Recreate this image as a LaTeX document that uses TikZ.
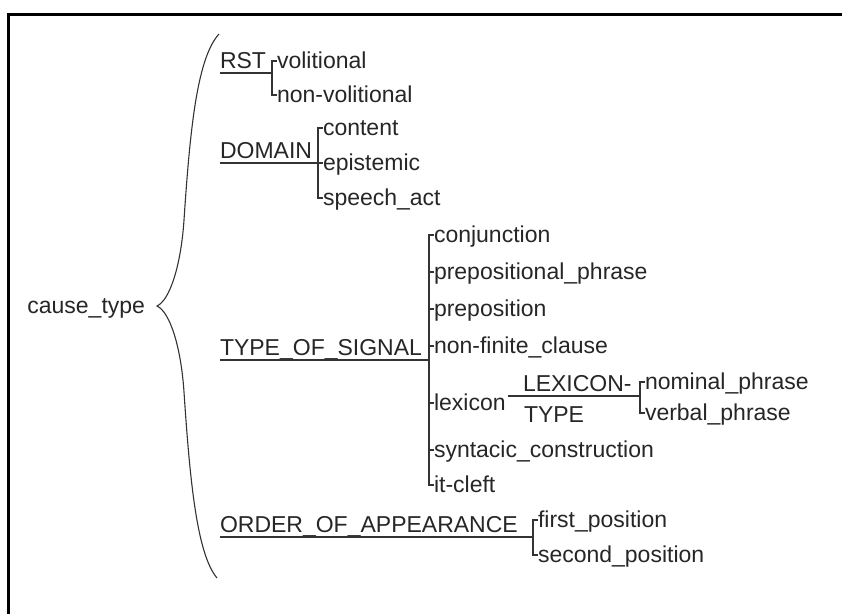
\documentclass[tikz,border=0pt]{standalone}
\usepackage{fontspec}
\setmainfont{Liberation Sans}
\usetikzlibrary{positioning}

\begin{document}
\begin{tikzpicture}[x=1pt,y=-1pt]
\tikzstyle{every node}=[inner sep=0pt,outer sep=0pt,font=\fontsize{23}{27}\selectfont,text=black!85]
\tikzstyle{cat}=[anchor=base west]
\tikzstyle{val}=[anchor=base west,yshift=-7pt]
\tikzstyle{stroke}=[line width=1.3pt,black!80]
\tikzstyle{frame}=[line width=3pt,black]
\useasboundingbox (0,0) rectangle (842,614);
\draw[frame] (842,14.5) -- (8.5,14.5) -- (8.5,614);

\node[anchor=base east] (root) at (145,313) {cause\_type};
\coordinate (bracetop) at (219,34);
\coordinate (bracetip) at (157,306);
\coordinate (bracebot) at (217,578);
\draw[stroke,line width=1.1pt] (bracetop) .. controls (197,58) and (190,130) .. (184,220)
  .. controls (181,265) and (170,300) .. (bracetip)
  .. controls (170,312) and (181,347) .. (184,392)
  .. controls (190,482) and (197,554) .. (bracebot);

% RST
\node[cat] (rst) at (220,68) {RST};
\node[val] (vol) at (277,61) {volitional};
\node[val] (nonvol) at (277,95) {non-volitional};
\draw[stroke] ([yshift=-5pt]rst.base west) -- ++(52,0);
\draw[stroke] ([yshift=7pt]vol.base west) -- ++(-5,0) |- ([yshift=7pt]nonvol.base west);

% DOMAIN
\node[cat] (dom) at (220,158) {DOMAIN};
\node[val] (cont) at (323,128) {content};
\node[val] (epi) at (323,163) {epistemic};
\node[val] (speech) at (323,198) {speech\_act};
\draw[stroke] ([yshift=-5pt]dom.base west) -- ++(98,0);
\draw[stroke] ([yshift=7pt]cont.base west) -- ++(-5,0) |- ([yshift=7pt]speech.base west);
\draw[stroke] ([yshift=7pt]epi.base west) -- ++(-5,0);

% TYPE_OF_SIGNAL
\node[cat] (sig) at (220,355) {TYPE\_OF\_SIGNAL};
\foreach \name/\txt/\y in {conj/conjunction/235, pphr/prepositional\_phrase/272,
    prep/preposition/309, nonfin/non-finite\_clause/346, lex/lexicon/403,
    synt/syntacic\_construction/450, cleft/it-cleft/485}
  \node[val] (\name) at (434,\y) {\txt};
\draw[stroke] ([yshift=-5pt]sig.base west) -- ++(209,0);
\draw[stroke] ([yshift=7pt]conj.base west) -- ++(-5,0) |- ([yshift=7pt]cleft.base west);
\foreach \name in {pphr,prep,nonfin,lex,synt}
  \draw[stroke] ([yshift=7pt]\name.base west) -- ++(-5,0);

\node[cat] (lextype) at (523,391) {LEXICON-};
\node[cat] (lextypeb) at (524,422) {TYPE};
\coordinate (lexbar) at (640,396);
\node[val] (nomphr) at (645,382) {nominal\_phrase};
\node[val] (verbphr) at (645,413) {verbal\_phrase};
\draw[stroke] ([xshift=2pt]lex.east |- lexbar) -- (lexbar);
\draw[stroke] ([yshift=7pt]nomphr.base west) -- ++(-5,0) |- ([yshift=7pt]verbphr.base west);

% ORDER_OF_APPEARANCE
\node[cat] (order) at (220,532) {ORDER\_OF\_APPEARANCE};
\node[val] (firstpos) at (538,520) {first\_position};
\node[val] (secondpos) at (538,555) {second\_position};
\draw[stroke] ([yshift=-5pt]order.base west) -- ++(313,0);
\draw[stroke] ([yshift=7pt]firstpos.base west) -- ++(-5,0) |- ([yshift=7pt]secondpos.base west);
\end{tikzpicture}
\end{document}
